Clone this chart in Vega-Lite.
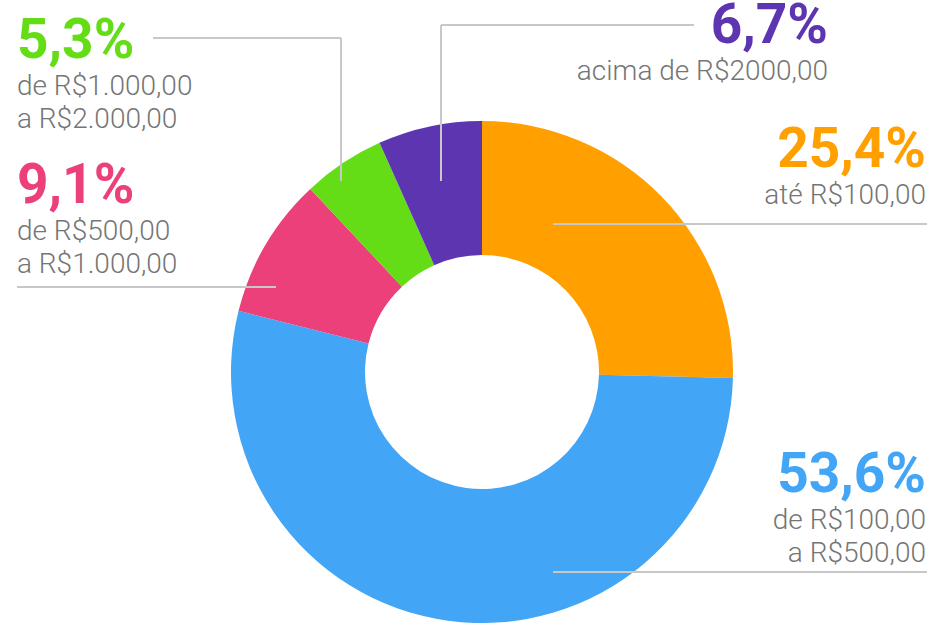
{
  "$schema": "https://vega.github.io/schema/vega-lite/v6.json",
  "width": 902,
  "height": 504,
  "autosize": {"type": "none"},
  "padding": {"left": 31, "top": 120, "right": 0, "bottom": 0},
  "background": "white",
  "config": {
    "view": {"stroke": null},
    "font": "Roboto",
    "locale": {"number": {"decimal": ",", "thousands": ".", "grouping": [3], "currency": ["R$", ""]}}
  },
  "data": {
    "values": [
      {"ordem": 1, "faixa": "até R$100,00", "pct": 0.254},
      {"ordem": 2, "faixa": "de R$100,00\na R$500,00", "pct": 0.536},
      {"ordem": 3, "faixa": "de R$500,00\na R$1.000,00", "pct": 0.091},
      {"ordem": 4, "faixa": "de R$1.000,00\na R$2.000,00", "pct": 0.053},
      {"ordem": 5, "faixa": "acima de R$2000,00", "pct": 0.067}
    ]
  },
  "resolve": {"scale": {"x": "independent", "y": "independent"}},
  "layer": [
    {
      "mark": {"type": "arc", "innerRadius": 117, "outerRadius": 251},
      "encoding": {
        "theta": {"field": "pct", "type": "quantitative", "stack": true},
        "order": {"field": "ordem", "type": "quantitative"},
        "color": {
          "field": "faixa",
          "type": "nominal",
          "scale": {
            "domain": ["até R$100,00", "de R$100,00\na R$500,00", "de R$500,00\na R$1.000,00", "de R$1.000,00\na R$2.000,00", "acima de R$2000,00"],
            "range": ["#FFA000", "#42A5F5", "#EC407A", "#64DD17", "#5E35B1"]
          },
          "legend": null
        }
      }
    },
    {
      "layer": [
        {
          "mark": {"type": "rule", "strokeWidth": 2, "color": "#C8C8C8"},
          "encoding": {
            "x": {"field": "ordem", "type": "quantitative", "axis": null,
                  "scale": {"domain": [0.053, 0.067, 0.091, 0.254, 0.536, 1, 2, 3, 4, 5], "range": [122, 663, 245, 896, 896, 522, 522, -14, 310, 410], "nice": false, "zero": false}},
            "x2": {"field": "pct"},
            "y": {"field": "ordem", "type": "quantitative", "axis": null,
                  "scale": {"domain": [0.053, 0.067, 1, 2, 3, 4, 5], "range": [61, 61, 104, 452, 167, -82, -95], "nice": false, "zero": false}}
          }
        },
        {
          "transform": [{"filter": {"field": "ordem", "oneOf": [4, 5]}}],
          "mark": {"type": "rule", "strokeWidth": 2, "color": "#C8C8C8"},
          "encoding": {
            "x": {"field": "ordem", "type": "quantitative", "axis": null,
                  "scale": {"domain": [0.053, 0.067, 0.091, 0.254, 0.536, 1, 2, 3, 4, 5], "range": [122, 663, 245, 896, 896, 522, 522, -14, 310, 410], "nice": false, "zero": false}},
            "y": {"field": "ordem", "type": "quantitative", "axis": null,
                  "scale": {"domain": [0.053, 0.067, 1, 2, 3, 4, 5], "range": [61, 61, 104, 452, 167, -82, -95], "nice": false, "zero": false}},
            "y2": {"field": "pct"}
          }
        }
      ]
    },
    {
      "layer": [
        {
          "transform": [{"filter": {"field": "ordem", "oneOf": [1, 2, 5]}}],
          "mark": {"type": "text", "align": "right", "baseline": "alphabetic", "fontSize": 55, "fontWeight": "bold", "font": "Roboto"},
          "encoding": {
            "x": {"field": "ordem", "type": "quantitative", "axis": null,
                  "scale": {"domain": [1, 2, 3, 4, 5], "range": [895, 895, -14, -14, 797], "nice": false, "zero": false}},
            "y": {"field": "ordem", "type": "quantitative", "axis": null,
                  "scale": {"domain": [1, 2, 3, 4, 5], "range": [47, 372, 83, -62, -77], "nice": false, "zero": false}},
            "text": {"field": "pct", "type": "quantitative", "format": ".1%"},
            "color": {"field": "faixa", "type": "nominal", "legend": null}
          }
        },
        {
          "transform": [{"filter": {"field": "ordem", "oneOf": [1, 2, 5]}}],
          "mark": {"type": "text", "align": "right", "baseline": "alphabetic", "dy": 37, "fontSize": 28, "fontWeight": 300, "font": "Roboto Light, Roboto", "color": "#757575", "lineBreak": "\n", "lineHeight": 32.5},
          "encoding": {
            "x": {"field": "ordem", "type": "quantitative", "axis": null,
                  "scale": {"domain": [1, 2, 3, 4, 5], "range": [895, 895, -14, -14, 797], "nice": false, "zero": false}},
            "y": {"field": "ordem", "type": "quantitative", "axis": null,
                  "scale": {"domain": [1, 2, 3, 4, 5], "range": [47, 372, 83, -63, -78], "nice": false, "zero": false}},
            "text": {"field": "faixa", "type": "nominal"}
          }
        },
        {
          "transform": [{"filter": {"field": "ordem", "oneOf": [3, 4]}}],
          "mark": {"type": "text", "align": "left", "baseline": "alphabetic", "fontSize": 55, "fontWeight": "bold", "font": "Roboto"},
          "encoding": {
            "x": {"field": "ordem", "type": "quantitative", "axis": null,
                  "scale": {"domain": [1, 2, 3, 4, 5], "range": [895, 895, -14, -14, 797], "nice": false, "zero": false}},
            "y": {"field": "ordem", "type": "quantitative", "axis": null,
                  "scale": {"domain": [1, 2, 3, 4, 5], "range": [47, 372, 83, -62, -77], "nice": false, "zero": false}},
            "text": {"field": "pct", "type": "quantitative", "format": ".1%"},
            "color": {"field": "faixa", "type": "nominal", "legend": null}
          }
        },
        {
          "transform": [{"filter": {"field": "ordem", "oneOf": [3, 4]}}],
          "mark": {"type": "text", "align": "left", "baseline": "alphabetic", "dy": 37, "fontSize": 28, "fontWeight": 300, "font": "Roboto Light, Roboto", "color": "#757575", "lineBreak": "\n", "lineHeight": 32.5},
          "encoding": {
            "x": {"field": "ordem", "type": "quantitative", "axis": null,
                  "scale": {"domain": [1, 2, 3, 4, 5], "range": [895, 895, -14, -14, 797], "nice": false, "zero": false}},
            "y": {"field": "ordem", "type": "quantitative", "axis": null,
                  "scale": {"domain": [1, 2, 3, 4, 5], "range": [47, 372, 83, -63, -78], "nice": false, "zero": false}},
            "text": {"field": "faixa", "type": "nominal"}
          }
        }
      ]
    }
  ]
}
